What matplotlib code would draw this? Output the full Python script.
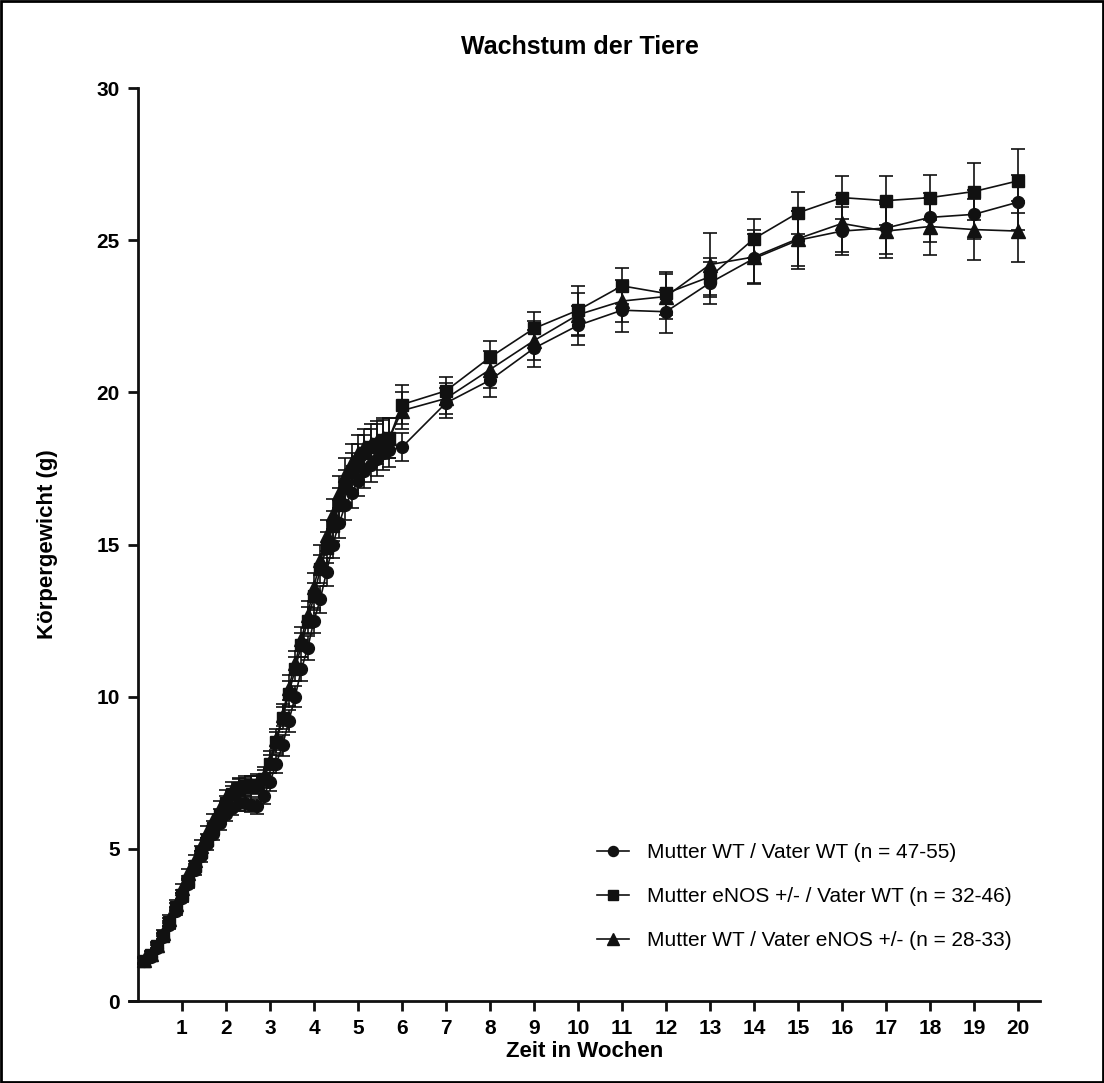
"""
Wachstum der Tiere - Koerpergewicht ueber die Zeit, drei Verpaarungen
"""

import matplotlib.pyplot as plt
from matplotlib.patches import Rectangle
import numpy as np

plt.rcParams['font.family'] = ['Liberation Sans', 'DejaVu Sans']

# Zeitpunkte: taeglich (Tag 1-40) und danach woechentlich (Woche 6-20)
days = list(range(1, 41))
weeks = list(range(6, 21))

# Mutter WT / Vater WT (Kreise)
wt_daily = [1.3, 1.45, 1.75, 2.1, 2.5, 2.95, 3.4, 3.85, 4.3, 4.75,
            5.15, 5.5, 5.85, 6.15, 6.35, 6.5, 6.5, 6.45, 6.4, 6.75,
            7.2, 7.8, 8.4, 9.2, 10.0, 10.9, 11.6, 12.5, 13.2, 14.1,
            15.0, 15.7, 16.3, 16.7, 17.1, 17.4, 17.6, 17.8, 18.0, 18.1]
wt_daily_err = [0.1, 0.1, 0.1, 0.1, 0.12, 0.12, 0.15, 0.15, 0.15, 0.18,
                0.2, 0.2, 0.22, 0.22, 0.25, 0.25, 0.25, 0.25, 0.25, 0.28,
                0.3, 0.3, 0.35, 0.35, 0.35, 0.4, 0.4, 0.4, 0.45, 0.45,
                0.45, 0.5, 0.5, 0.5, 0.5, 0.55, 0.55, 0.55, 0.55, 0.55]
wt_weekly = [18.2, 19.65, 20.4, 21.45, 22.2, 22.7, 22.65, 23.6, 24.4, 25.0,
             25.3, 25.4, 25.75, 25.85, 26.25]
wt_weekly_err = [0.45, 0.5, 0.55, 0.6, 0.65, 0.7, 0.7, 0.7, 0.8, 0.95,
                 0.8, 0.85, 0.8, 0.8, 0.9]

# Mutter eNOS +/- / Vater WT (Quadrate)
mut_daily = [1.3, 1.5, 1.8, 2.15, 2.6, 3.1, 3.5, 3.95, 4.45, 4.9,
             5.3, 5.7, 6.1, 6.5, 6.8, 7.0, 7.05, 7.1, 7.1, 7.3,
             7.8, 8.5, 9.3, 10.1, 10.9, 11.7, 12.5, 13.3, 14.2, 14.9,
             15.6, 16.3, 16.9, 17.4, 17.7, 18.0, 18.2, 18.3, 18.45, 18.5]
mut_daily_err = [0.1, 0.1, 0.1, 0.1, 0.12, 0.12, 0.15, 0.15, 0.15, 0.18,
                 0.2, 0.2, 0.22, 0.25, 0.25, 0.28, 0.28, 0.28, 0.3, 0.3,
                 0.3, 0.35, 0.35, 0.4, 0.4, 0.4, 0.45, 0.45, 0.45, 0.5,
                 0.5, 0.55, 0.55, 0.6, 0.6, 0.6, 0.6, 0.65, 0.65, 0.65]
mut_weekly = [19.6, 20.05, 21.15, 22.1, 22.7, 23.5, 23.25, 23.8, 25.05, 25.9,
              26.4, 26.3, 26.4, 26.6, 26.95]
mut_weekly_err = [0.65, 0.45, 0.55, 0.55, 0.8, 0.6, 0.7, 0.6, 0.65, 0.7,
                  0.7, 0.8, 0.75, 0.95, 1.05]

# Mutter WT / Vater eNOS +/- (Dreiecke)
pat_daily = [1.35, 1.55, 1.85, 2.25, 2.7, 3.2, 3.7, 4.2, 4.65, 5.1,
             5.55, 5.95, 6.35, 6.7, 6.95, 7.05, 7.1, 7.1, 7.15, 7.4,
             7.9, 8.6, 9.4, 10.3, 11.1, 11.9, 12.7, 13.6, 14.5, 15.3,
             16.0, 16.7, 17.3, 17.7, 18.0, 18.2, 18.3, 18.4, 18.5, 18.5]
pat_daily_err = [0.1, 0.1, 0.1, 0.1, 0.12, 0.12, 0.15, 0.15, 0.15, 0.18,
                 0.2, 0.2, 0.22, 0.25, 0.25, 0.28, 0.28, 0.28, 0.3, 0.3,
                 0.3, 0.35, 0.35, 0.4, 0.4, 0.4, 0.45, 0.45, 0.5, 0.5,
                 0.5, 0.55, 0.55, 0.6, 0.6, 0.6, 0.65, 0.65, 0.65, 0.65]
pat_weekly = [19.4, 19.8, 20.75, 21.7, 22.55, 23.0, 23.15, 24.2, 24.45, 25.05,
              25.55, 25.3, 25.45, 25.35, 25.3]
pat_weekly_err = [0.6, 0.5, 0.6, 0.65, 0.7, 0.7, 0.75, 1.05, 0.9, 0.9,
                  0.95, 0.9, 0.95, 1.0, 1.0]

labels = ['Mutter WT / Vater WT (n = 47-55)',
          'Mutter eNOS +/- / Vater WT (n = 32-46)',
          'Mutter WT / Vater eNOS +/- (n = 28-33)']
markers = ['o', 's', '^']
x_ticks = list(range(1, 21))
y_ticks = [0, 5, 10, 15, 20, 25, 30]

INK = '#111111'

fig = plt.figure(figsize=(11.04, 10.83), dpi=100)
ax = fig.add_axes([0.117, 0.0757, 0.825, 0.843])

x = np.array(days) / 7.0
x = np.concatenate([x, np.array(weeks, dtype=float)])

series = [
    (wt_daily + wt_weekly, wt_daily_err + wt_weekly_err),
    (mut_daily + mut_weekly, mut_daily_err + mut_weekly_err),
    (pat_daily + pat_weekly, pat_daily_err + pat_weekly_err),
]

handles = []
for (y, err), marker, label in zip(series, markers, labels):
    ms = 9.5 if marker == '^' else 8.5
    h = ax.errorbar(x, y, yerr=err, fmt='-', marker=marker, color=INK,
                    markersize=ms, linewidth=1.2, elinewidth=1.2,
                    capsize=5, capthick=1.2, label=label)
    handles.append(h[0])

ax.set_xlim(-0.2, 20.5)
ax.set_ylim(0, 30)
ax.spines['left'].set_position(('data', 0))
ax.spines['top'].set_visible(False)
ax.spines['right'].set_visible(False)
for side in ['left', 'bottom']:
    ax.spines[side].set_linewidth(2)
    ax.spines[side].set_color(INK)

ax.set_xticks(x_ticks)
ax.set_yticks(y_ticks)
ax.tick_params(axis='both', direction='out', length=7, width=2, color=INK,
               labelsize=15, pad=6)
for lbl in ax.get_xticklabels() + ax.get_yticklabels():
    lbl.set_fontweight('bold')

ax.set_xlabel('Zeit in Wochen', fontsize=16, fontweight='bold', labelpad=2)
ax.set_ylabel('Körpergewicht (g)', fontsize=16, fontweight='bold', labelpad=28)
fig.text(0.525, 0.957, 'Wachstum der Tiere', ha='center', va='center',
         fontsize=18, fontweight='bold')

ax.legend(handles=handles, labels=labels, loc='lower right',
          bbox_to_anchor=(0.99, 0.035), frameon=False, fontsize=15,
          handlelength=1.5, handletextpad=0.9, labelspacing=1.2,
          markerscale=0.85)

# Rahmen um die gesamte Abbildung
fig.patches.append(Rectangle((0.001, 0.001), 0.998, 0.998, transform=fig.transFigure,
                             fill=False, edgecolor='black', linewidth=2))

plt.savefig('out.png', dpi=100)
